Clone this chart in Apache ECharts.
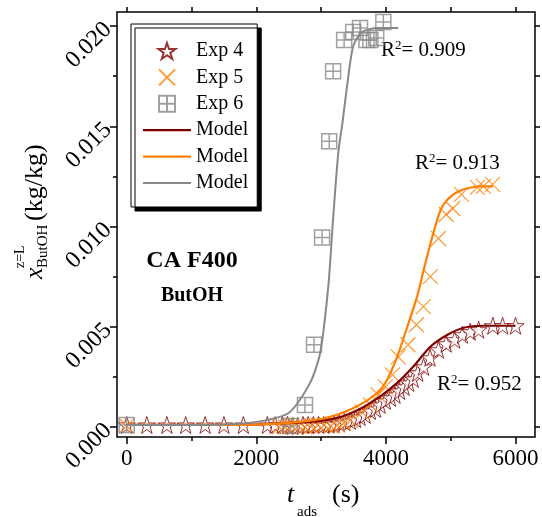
<!DOCTYPE html>
<html><head><meta charset="utf-8">
<script src="https://cdn.jsdelivr.net/npm/echarts@6/dist/echarts.min.js"></script>
<style>html,body{margin:0;padding:0;background:#fff}#c{width:542px;height:517px}</style>
</head><body><div id="c"></div>
<script>
// ---- data (t in s, x in kg/kg) ----
const exp4T = [0,310,620,910,1210,1500,1800,2170,2290,2400,2480,2560,2640,2720,2800,2880,2960,3040,3120,3200,3280,3360,3450,3530,3600,3680,3760,3840,3910,3990,4070,4140,4210,4280,4350,4420,4490,4580,4680,4810,4930,5060,5180,5300,5430,5650,5800,6000];
const exp4V = [0.0001,0.0001,0.0001,0.0001,0.0001,0.0001,0.0001,0.0001,0.0001,0.0001,0.0001,0.00005,0.00005,0.0001,0.0001,0.0001,0.0001,0.0001,0.00012,0.00015,0.0002,0.00025,0.0003,0.0004,0.0005,0.0006,0.0008,0.0009,0.0011,0.0013,0.00145,0.0016,0.0018,0.002,0.0022,0.0024,0.0027,0.003,0.00345,0.00385,0.00415,0.00435,0.0046,0.00475,0.00485,0.00505,0.00505,0.00505];
const exp5T = [0,2350,2450,2550,2650,2750,2850,2950,3050,3150,3250,3350,3450,3630,3760,3880,3990,4100,4190,4340,4470,4577,4685,4810,4930,5030,5165,5410,5505,5645];
const exp5V = [0.00005,0.0,0.0,0.00005,0.00005,0.0,0.00005,0.0001,0.0001,0.00005,0.0001,0.0002,0.00035,0.00075,0.0011,0.0016,0.002,0.0026,0.0035,0.0041,0.0051,0.006,0.0075,0.0094,0.0106,0.0109,0.0116,0.01195,0.012,0.0121];
const exp6T = [0,2520,2750,2890,3015,3125,3185,3355,3495,3600,3700,3760,3850,3960];
const exp6V = [0.0001,0.00005,0.0011,0.0041,0.00945,0.01425,0.01775,0.0193,0.0197,0.0199,0.0193,0.0193,0.0194,0.0202];
const model4T = [0,1000,2000,2500,3000,3300,3600,3900,4175,4420,4685,4950,5200,5500,6000];
const model4V = [0.0001,0.0001,0.00012,0.0002,0.0003,0.0005,0.0009,0.0015,0.0022,0.003,0.004,0.0046,0.00495,0.00505,0.00505];
const model5T = [0,1000,2000,2500,3000,3400,3700,3950,4150,4330,4480,4580,4716,4840,4950,5150,5450,5650];
const model5V = [0.0001,0.0001,0.00012,0.0002,0.0004,0.0008,0.0013,0.002,0.0033,0.005,0.0065,0.0078,0.0095,0.0108,0.01135,0.0118,0.012,0.012];
const model6T = [0,1000,1500,2000,2500,2830,2985,3110,3185,3265,3330,3400,3495,3630,3870,4190];
const model6V = [0.0001,0.0001,0.00012,0.00025,0.0007,0.0022,0.0037,0.007,0.0104,0.0137,0.0152,0.017,0.019,0.0197,0.0199,0.0199];
const xMajorTicks = [0,2000,4000,6000];
const xMinorTicks = [1000,3000,5000];
const yMajorTicks = [0,0.005,0.01,0.015,0.02];
const yMinorTicks = [0.0025,0.0075,0.0125,0.0175];
const legendNames = ['Exp 4','Exp 5','Exp 6','Model','Model ','Model  '];
const r2Labels = ['0.909','0.913','0.952'];

const pairs = (t, v) => t.map((x, i) => [x, v[i]]);
const FONT = '"Liberation Serif","Times New Roman",serif';
const RED = '#800000', ORANGE = '#FF8000', GRAY = '#888888';
const STAR = 'path://M50,0 L61.8,35.4 L99,35.4 L69,57.3 L80.4,92.7 L50,70.8 L19.6,92.7 L31,57.3 L1,35.4 L38.2,35.4 Z';
const CROSS = 'path://M0,0 L100,100 M100,0 L0,100';
const SQ = 'path://M0,0 L100,0 L100,100 L0,100 Z M50,0 L50,100 M0,50 L100,50';
const LINEICON = 'path://M0,0 L100,0 L100,4.5 L0,4.5 Z';

function xAx(pos, ticks, len, labels) {
  return { type:'value', position:pos, min:-150, max:6300, gridIndex:0,
    axisLine:{show:false, onZero:false}, splitLine:{show:false},
    axisTick:{show:true, inside:false, length:len, customValues:ticks, lineStyle:{color:'#000', width:1.5}},
    axisLabel:{show:labels, customValues:ticks, fontFamily:FONT, fontSize:23, color:'#000', margin:10,
      formatter: v => String(v)}};
}
function yAx(pos, ticks, len, labels) {
  return { type:'value', position:pos, min:-0.0005, max:0.0207, gridIndex:0,
    axisLine:{show:false, onZero:false}, splitLine:{show:false},
    axisTick:{show:true, inside:false, length:len, customValues:ticks, lineStyle:{color:'#000', width:1.5}},
    axisLabel:{show:labels, customValues:ticks, rotate:45, fontFamily:FONT, fontSize:24, color:'#000', margin:9,
      formatter: v => v.toFixed(3)}};
}

const chart = echarts.init(document.getElementById('c'), null, {renderer:'canvas'});
chart.setOption({
  animation:false,
  grid:{left:117, right:7, top:12, bottom:80, show:true, borderColor:'#000', borderWidth:1.5, backgroundColor:'transparent'},
  xAxis:[xAx('bottom', xMajorTicks, 7, true), xAx('bottom', xMinorTicks, 4, false), xAx('top', xMajorTicks, 5, false), xAx('top', xMinorTicks, 5, false)],
  yAxis:[yAx('left', yMajorTicks, 7, true), yAx('left', yMinorTicks, 4, false), yAx('right', yMajorTicks, 5, false), yAx('right', yMinorTicks, 5, false)],
  legend:{orient:'vertical', left:131, top:24, padding:[17,9,14,12], itemWidth:48, itemHeight:16, itemGap:6.4,
    backgroundColor:'#fff', borderColor:'#000', borderWidth:1, shadowColor:'#000', shadowBlur:0, shadowOffsetX:4, shadowOffsetY:4,
    selectedMode:false,
    textStyle:{fontFamily:FONT, fontSize:20, color:'#000', lineHeight:20},
    formatter: n => n.trim(),
    data: legendNames.map((n, i) => i < 3 ? {name:n} : {name:n, icon:LINEICON})},
  series:[
    {name:legendNames[0], type:'scatter', symbol:STAR, symbolSize:17, data:pairs(exp4T, exp4V),
      itemStyle:{color:'#fff', borderColor:RED, borderWidth:1}, z:3},
    {name:legendNames[1], type:'scatter', symbol:CROSS, symbolSize:15, data:pairs(exp5T, exp5V),
      itemStyle:{color:'rgba(0,0,0,0)', borderColor:ORANGE, borderWidth:1.2}, z:3},
    {name:legendNames[2], type:'scatter', symbol:SQ, symbolSize:15, data:pairs(exp6T, exp6V),
      itemStyle:{color:'rgba(0,0,0,0)', borderColor:GRAY, borderWidth:1.5}, z:3},
    {name:legendNames[3], type:'line', data:pairs(model4T, model4V), showSymbol:false, symbol:'none', smooth:0.25,
      lineStyle:{color:RED, width:2.2}, itemStyle:{color:RED}, z:4},
    {name:legendNames[4], type:'line', data:pairs(model5T, model5V), showSymbol:false, symbol:'none', smooth:0.25,
      lineStyle:{color:ORANGE, width:2.2}, itemStyle:{color:ORANGE}, z:4},
    {name:legendNames[5], type:'line', data:pairs(model6T, model6V), showSymbol:false, symbol:'none', smooth:0.25,
      lineStyle:{color:GRAY, width:2}, itemStyle:{color:GRAY}, z:4}
  ],
  graphic:[
    {type:'text', x:192, y:261, style:{text:'CA F400', font:'bold 24px '+FONT, fill:'#000', align:'center', verticalAlign:'middle'}},
    {type:'text', x:192, y:296, style:{text:'ButOH', font:'bold 20px '+FONT, fill:'#000', align:'center', verticalAlign:'middle'}},
    {type:'text', x:381, y:50, style:{text:'R{s|2}= '+r2Labels[0], font:'21px '+FONT, fill:'#000', align:'left', verticalAlign:'middle',
      rich:{s:{font:'13px '+FONT, verticalAlign:'top', fill:'#000', padding:[0,0,6,0]}}}},
    {type:'text', x:415, y:163, style:{text:'R{s|2}= '+r2Labels[1], font:'21px '+FONT, fill:'#000', align:'left', verticalAlign:'middle',
      rich:{s:{font:'13px '+FONT, verticalAlign:'top', fill:'#000', padding:[0,0,6,0]}}}},
    {type:'text', x:437, y:384, style:{text:'R{s|2}= '+r2Labels[2], font:'21px '+FONT, fill:'#000', align:'left', verticalAlign:'middle',
      rich:{s:{font:'13px '+FONT, verticalAlign:'top', fill:'#000', padding:[0,0,6,0]}}}},
    // x-axis title
    {type:'text', x:287, y:495, style:{text:'t', font:'italic 26px '+FONT, fill:'#000', align:'left', verticalAlign:'middle'}},
    {type:'text', x:297, y:512, style:{text:'ads', font:'15px '+FONT, fill:'#000', align:'left', verticalAlign:'middle'}},
    {type:'text', x:332, y:495, style:{text:'(s)', font:'26px '+FONT, fill:'#000', align:'left', verticalAlign:'middle'}},
    // y-axis title (rotated)
    {type:'group', x:42, y:279, rotation:Math.PI/2, children:[
      {type:'text', x:0, y:-7, style:{text:'x', font:'italic 26px '+FONT, fill:'#000', align:'left', verticalAlign:'middle'}},
      {type:'text', x:11, y:-22, style:{text:'z=L', font:'14px '+FONT, fill:'#000', align:'left', verticalAlign:'middle'}},
      {type:'text', x:11, y:1, style:{text:'ButOH', font:'15px '+FONT, fill:'#000', align:'left', verticalAlign:'middle'}},
      {type:'text', x:58, y:-7, style:{text:'(kg/kg)', font:'26px '+FONT, fill:'#000', align:'left', verticalAlign:'middle'}}
    ]}
  ]
});
</script></body></html>
